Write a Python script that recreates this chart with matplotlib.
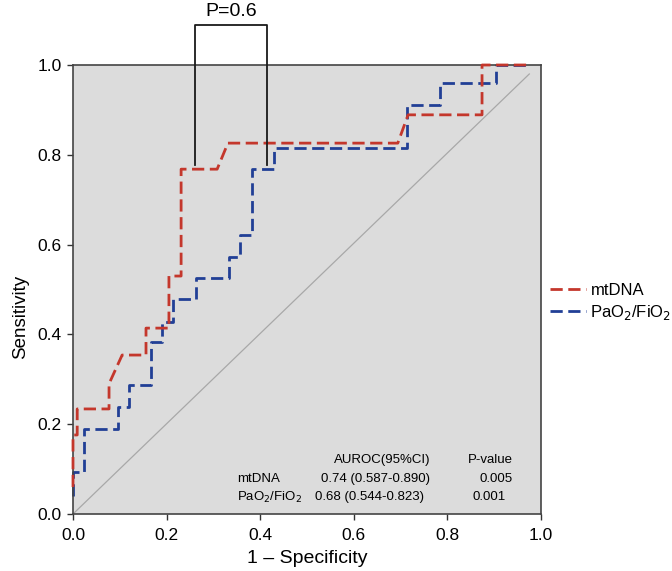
import numpy as np
import matplotlib
matplotlib.use("Agg")
import matplotlib.pyplot as plt
from matplotlib.lines import Line2D

plt.rcParams['font.family'] = ['Liberation Sans', 'DejaVu Sans']

# ROC step curves (1 - specificity, sensitivity)
mt_fpr = [0.0, 0.0, 0.009, 0.009, 0.077, 0.077, 0.105, 0.156, 0.156, 0.205, 0.205,
          0.231, 0.231, 0.308, 0.331, 0.694, 0.716, 0.874, 0.874, 0.977]
mt_tpr = [0.06, 0.176, 0.176, 0.234, 0.234, 0.29, 0.354, 0.354, 0.414, 0.414, 0.53,
          0.53, 0.768, 0.768, 0.826, 0.826, 0.889, 0.889, 1.0, 1.0]

pf_fpr = [0.0, 0.0, 0.024, 0.024, 0.096, 0.096, 0.12, 0.12, 0.167, 0.167, 0.19, 0.19,
          0.214, 0.214, 0.263, 0.263, 0.333, 0.333, 0.357, 0.357, 0.382, 0.382,
          0.43, 0.43, 0.714, 0.714, 0.784, 0.784, 0.904, 0.904, 0.977]
pf_tpr = [0.04, 0.094, 0.094, 0.19, 0.19, 0.238, 0.238, 0.287, 0.287, 0.383, 0.383,
          0.428, 0.428, 0.479, 0.479, 0.526, 0.526, 0.572, 0.572, 0.621, 0.621,
          0.768, 0.768, 0.815, 0.815, 0.911, 0.911, 0.96, 0.96, 1.0, 1.0]

ref_x = [0.0, 0.975]
ref_y = [0.0, 0.98]

# bracket for the comparison between curves
br_x = [0.261, 0.415]
br_bottom = 0.777
br_top = 1.089
p_text = "P=0.6"

ticks = [0.0, 0.2, 0.4, 0.6, 0.8, 1.0]

table_head = ["AUROC(95%CI)", "P-value"]
table_names = ["mtDNA", "PaO$_2$/FiO$_2$"]
table_auc = ["0.74 (0.587-0.890)", "0.68 (0.544-0.823)"]
table_p = ["0.005", "0.001"]

red = '#c4372c'
blue = '#213f96'
dash = (4.4, 2.0)

fig = plt.figure(figsize=(6.72, 5.71), dpi=100)
ax = fig.add_axes([73 / 672, 57 / 571, 468 / 672, 449 / 571])
ax.set_facecolor('#dcdcdc')

ax.plot(ref_x, ref_y, color='#a8a8a8', lw=0.9, zorder=1)
ax.plot(mt_fpr, mt_tpr, color=red, lw=2.0, dashes=dash, zorder=3, clip_on=False)
ax.plot(pf_fpr, pf_tpr, color=blue, lw=2.0, dashes=dash, zorder=2, clip_on=False)

# P-value bracket, drawn above the axes
ax.plot([br_x[0], br_x[0], br_x[1], br_x[1]], [br_bottom, br_top, br_top, br_bottom],
        color='#1a1a1a', lw=1.3, clip_on=False, zorder=4)
ax.text(np.mean(br_x), br_top + 0.012, p_text, ha='center', va='bottom', fontsize=14)

ax.set_xlim(0, 1)
ax.set_ylim(0, 1)
ax.set_xticks(ticks)
ax.set_yticks(ticks)
ax.set_xticklabels([f"{t:.1f}" for t in ticks])
ax.set_yticklabels([f"{t:.1f}" for t in ticks])
ax.tick_params(direction='out', length=4, width=1, labelsize=12.5, color='#333333', pad=4)
ax.tick_params(axis='x', pad=6)
for s in ax.spines.values():
    s.set_color('#444444')
    s.set_linewidth(1.2)

ax.set_xlabel("1 \u2013 Specificity", fontsize=14, labelpad=5)
ax.set_ylabel("Sensitivity", fontsize=13.5)
ax.yaxis.set_label_coords(-0.094, 0.44)

# small summary table inside the plot
fs = 9.5
ax.text(0.763, 0.12, table_head[0], ha='right', va='center', fontsize=fs)
ax.text(0.94, 0.12, table_head[1], ha='right', va='center', fontsize=fs)
for i, (nm, auc, p) in enumerate(zip(table_names, table_auc, table_p)):
    y = 0.079 - i * 0.042
    ax.text(0.35, y, nm, ha='left', va='center', fontsize=fs)
    ax.text(0.763 - i * 0.012, y, auc, ha='right', va='center', fontsize=fs)
    ax.text(0.94 - i * 0.015, y, p, ha='right', va='center', fontsize=fs)

handles = [Line2D([], [], color=red, lw=2.0, dashes=dash),
           Line2D([], [], color=blue, lw=2.0, dashes=dash)]
fig.legend(handles, table_names, loc='center left', bbox_to_anchor=(0.808, 0.47),
           frameon=False, fontsize=12, handlelength=2.2, handletextpad=0.25,
           borderaxespad=0, labelspacing=0.3)

fig.savefig("out.png", dpi=100)
